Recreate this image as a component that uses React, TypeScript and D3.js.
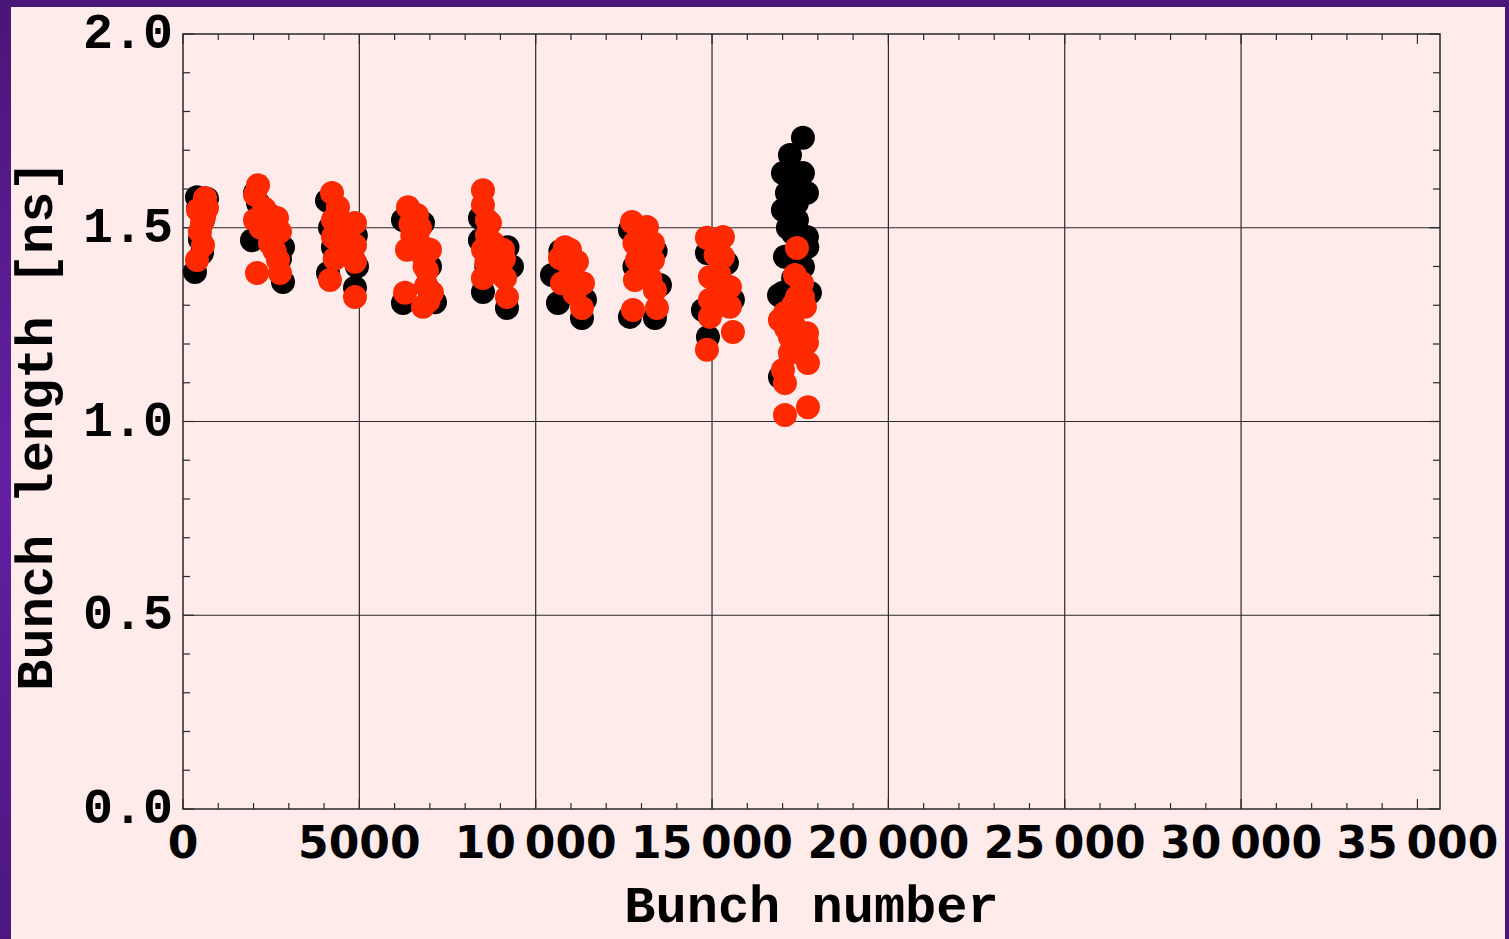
import React from "react";
import * as d3 from "d3";

const blackPoints: [number, number][] = [
  [340, 1.386], [397, 1.579], [425, 1.55], [539, 1.435], [567, 1.52], [624, 1.56], [680, 1.575], [480, 1.47],
  [1956, 1.468], [2041, 1.59], [2126, 1.564], [2200, 1.5], [2466, 1.51], [2665, 1.45], [2750, 1.42], [2835, 1.36], [2835, 1.45],
  [4082, 1.57], [4111, 1.383], [4167, 1.5], [4252, 1.45], [4876, 1.345], [4933, 1.4], [4900, 1.48],
  [6237, 1.306], [6237, 1.52], [6500, 1.45], [6804, 1.512], [7002, 1.4], [7144, 1.308], [6900, 1.35],
  [8420, 1.525], [8420, 1.468], [8505, 1.334], [8600, 1.4], [9185, 1.293], [9327, 1.4], [9200, 1.45],
  [10461, 1.378], [10631, 1.306], [10700, 1.44], [11000, 1.4], [11312, 1.267], [11397, 1.314],
  [12672, 1.494], [12672, 1.27], [12800, 1.4], [13381, 1.267], [13523, 1.352], [13400, 1.44],
  [14742, 1.288], [14855, 1.435], [14884, 1.218], [15200, 1.35], [15422, 1.409], [15592, 1.314],
  [17577, 1.732], [17209, 1.688], [17010, 1.641], [17577, 1.641], [17691, 1.59], [17124, 1.59], [17010, 1.546],
  [17407, 1.52], [17691, 1.476], [17067, 1.425], [17577, 1.399], [17010, 1.332], [17776, 1.332], [16925, 1.115],
  [17407, 1.564], [17294, 1.486], [17350, 1.62], [17150, 1.5], [17700, 1.45], [17300, 1.37], [16900, 1.326],
];

const redPoints: [number, number][] = [
  [624, 1.577], [425, 1.546], [539, 1.512], [567, 1.455], [397, 1.417], [680, 1.551], [480, 1.49], [600, 1.53],
  [2126, 1.61], [2041, 1.585], [2041, 1.52], [2098, 1.383], [2466, 1.533], [2665, 1.525], [2750, 1.49], [2466, 1.46],
  [2750, 1.383], [2693, 1.417], [2300, 1.55], [2550, 1.48], [2200, 1.5], [2600, 1.44],
  [4224, 1.59], [4394, 1.553], [4252, 1.52], [4252, 1.476], [4167, 1.365], [4876, 1.512], [4876, 1.455], [4876, 1.412],
  [4876, 1.321], [4500, 1.48], [4600, 1.44], [4300, 1.42], [4450, 1.52], [4700, 1.47],
  [6379, 1.553], [6634, 1.533], [6719, 1.5], [7002, 1.443], [6350, 1.443], [6917, 1.39], [7059, 1.332], [6294, 1.332],
  [6804, 1.296], [6500, 1.48], [6800, 1.43], [6900, 1.35], [6450, 1.51], [6700, 1.46], [6850, 1.4], [6950, 1.31],
  [8505, 1.597], [8505, 1.559], [8618, 1.52], [8618, 1.481], [8505, 1.443], [9072, 1.443], [8505, 1.37], [9129, 1.37],
  [9185, 1.321], [8703, 1.512], [8600, 1.41], [9000, 1.4], [8800, 1.46], [9100, 1.42],
  [10830, 1.45], [10688, 1.422], [11170, 1.412], [10745, 1.357], [11340, 1.357], [11312, 1.293], [10972, 1.443],
  [11000, 1.38], [11100, 1.33], [10900, 1.41],
  [12729, 1.515], [13154, 1.502], [13325, 1.46], [13325, 1.417], [12814, 1.365], [12758, 1.288], [13438, 1.293],
  [13381, 1.339], [12871, 1.417], [13000, 1.45], [13100, 1.38], [12800, 1.46], [13250, 1.37],
  [14855, 1.474], [15309, 1.476], [15309, 1.425], [14940, 1.373], [15507, 1.347], [14940, 1.314], [15507, 1.296],
  [14940, 1.27], [15592, 1.231], [14855, 1.185], [15309, 1.332], [15200, 1.38], [15100, 1.43], [15400, 1.3],
  [17407, 1.448], [17350, 1.378], [17549, 1.357], [17577, 1.321], [17634, 1.296], [17067, 1.28], [17294, 1.254],
  [17209, 1.218], [17691, 1.228], [17691, 1.203], [17719, 1.151], [17010, 1.133], [17067, 1.099], [17067, 1.017],
  [17719, 1.037], [17209, 1.177], [16925, 1.262], [17407, 1.321], [17300, 1.3], [17100, 1.24],
];

const xMajorTicks = [0, 5000, 10000, 15000, 20000, 25000, 30000, 35000];
const xTickLabels = ["0", "5000", "10\u2009000", "15\u2009000", "20\u2009000", "25\u2009000", "30\u2009000", "35\u2009000"];
const xGridValues = [5000, 10000, 15000, 20000, 25000, 30000];
const yMajorTicks = [0, 0.5, 1.0, 1.5, 2.0];
const yTickLabels = ["0.0", "0.5", "1.0", "1.5", "2.0"];
const yGridValues = [0.5, 1.0, 1.5];

const W = 1509;
const H = 939;
const L = 183, R = 1440, T = 34, B = 809;

export default function App() {
  const x = d3.scaleLinear().domain([0, 35640]).range([L, R]);
  const y = d3.scaleLinear().domain([0, 2]).range([B, T]);
  const xMinor = d3.range(0, 35641, 1000).filter((v) => v % 5000 !== 0);
  const yMinor = d3.range(0, 21).map((i) => i / 10).filter((_, i) => i % 5 !== 0);
  const mono = "'Liberation Mono', 'Courier New', monospace";
  const sans = "'DejaVu Sans', sans-serif";
  const axisCol = "#2a2a2a";
  const r = 12;
  return (
    <svg width={W} height={H} style={{ position: "absolute", left: 0, top: 0 }}>
      <defs>
        <linearGradient id="lg" x1="0" y1="0" x2="0" y2="1">
          <stop offset="0" stopColor="#4a1678" />
          <stop offset="0.5" stopColor="#6420a4" />
          <stop offset="1" stopColor="#4c1880" />
        </linearGradient>
      </defs>
      <rect x={0} y={0} width={W} height={H} fill="#ffebea" />
      <rect x={0} y={0} width={11} height={H} fill="url(#lg)" />
      <rect x={0} y={0} width={W} height={7} fill="#4a1678" />
      <rect x={1505} y={0} width={4} height={H} fill="#4a1678" />

      {xGridValues.map((v) => (
        <line key={"gx" + v} x1={x(v)} x2={x(v)} y1={T} y2={B} stroke={axisCol} strokeWidth={1.2} />
      ))}
      {yGridValues.map((v) => (
        <line key={"gy" + v} x1={L} x2={R} y1={y(v)} y2={y(v)} stroke={axisCol} strokeWidth={1.2} />
      ))}

      {xMinor.map((v) => (
        <g key={"xm" + v}>
          <line x1={x(v)} x2={x(v)} y1={B} y2={B - 6} stroke={axisCol} strokeWidth={1.2} />
          <line x1={x(v)} x2={x(v)} y1={T} y2={T + 6} stroke={axisCol} strokeWidth={1.2} />
        </g>
      ))}
      {xMajorTicks.map((v) => (
        <g key={"xM" + v}>
          <line x1={x(v)} x2={x(v)} y1={B} y2={B - 10} stroke={axisCol} strokeWidth={1.2} />
          <line x1={x(v)} x2={x(v)} y1={T} y2={T + 10} stroke={axisCol} strokeWidth={1.2} />
        </g>
      ))}
      {yMinor.map((v) => (
        <g key={"ym" + v}>
          <line x1={L} x2={L + 7} y1={y(v)} y2={y(v)} stroke={axisCol} strokeWidth={1.2} />
          <line x1={R} x2={R - 7} y1={y(v)} y2={y(v)} stroke={axisCol} strokeWidth={1.2} />
        </g>
      ))}
      {yMajorTicks.map((v) => (
        <g key={"yM" + v}>
          <line x1={L} x2={L + 11} y1={y(v)} y2={y(v)} stroke={axisCol} strokeWidth={1.2} />
          <line x1={R} x2={R - 11} y1={y(v)} y2={y(v)} stroke={axisCol} strokeWidth={1.2} />
        </g>
      ))}
      <rect x={L} y={T} width={R - L} height={B - T} fill="none" stroke={axisCol} strokeWidth={1.5} />

      {blackPoints.map((p, i) => (
        <circle key={"b" + i} cx={x(p[0])} cy={y(p[1])} r={r} fill="#000000" />
      ))}
      {redPoints.map((p, i) => (
        <circle key={"r" + i} cx={x(p[0])} cy={y(p[1])} r={r} fill="#ff2a00" />
      ))}

      {xMajorTicks.map((v, i) => (
        <text key={"xl" + v} x={x(v)} y={B + 49} textAnchor="middle" fontFamily={sans} fontWeight="bold" fontSize={44} fill="#000">
          {xTickLabels[i]}
        </text>
      ))}
      {yMajorTicks.map((v, i) => (
        <text key={"yl" + v} x={173} y={y(v) + 14} textAnchor="end" fontFamily={mono} fontWeight="bold" fontSize={50} fill="#000">
          {yTickLabels[i]}
        </text>
      ))}
      <text x={(L + R) / 2} y={922} textAnchor="middle" fontFamily={mono} fontWeight="bold" fontSize={52} fill="#000">
        Bunch number
      </text>
      <text transform={`translate(52, ${(T + B) / 2 + 4}) rotate(-90)`} textAnchor="middle" fontFamily={mono} fontWeight="bold" fontSize={52} fill="#000">
        Bunch length [ns]
      </text>
    </svg>
  );
}
